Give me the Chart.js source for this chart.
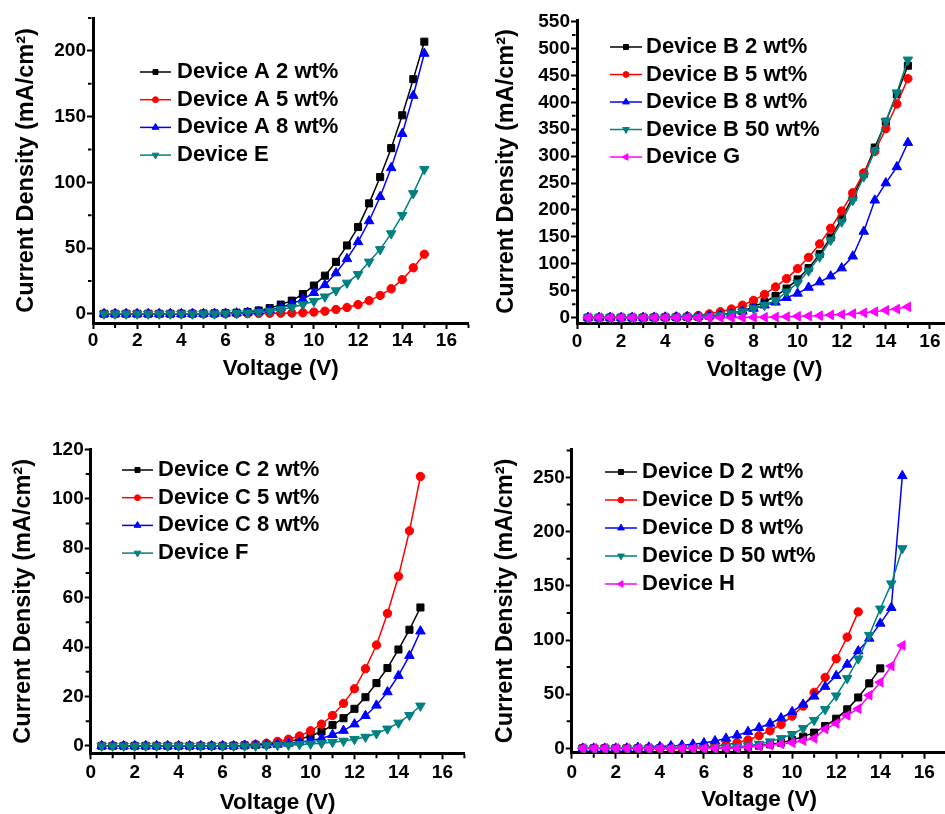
<!DOCTYPE html>
<html>
<head>
<meta charset="utf-8">
<script src="https://cdn.jsdelivr.net/npm/chart.js@4.4.1/dist/chart.umd.min.js"></script>
<style>
  html, body { margin: 0; padding: 0; background: #fff; overflow: hidden; }
  body { width: 945px; height: 814px; position: relative; }
  .panel { position: absolute; }
</style>
</head>
<body>
<div class="panel" style="left:0px;top:0px"><canvas id="chartA" width="475" height="390"></canvas></div>
<div class="panel" style="left:480px;top:0px"><canvas id="chartB" width="479" height="390"></canvas></div>
<div class="panel" style="left:0px;top:420px"><canvas id="chartC" width="472" height="400"></canvas></div>
<div class="panel" style="left:480px;top:420px"><canvas id="chartD" width="474" height="400"></canvas></div>
<script>
const FONT = '"Liberation Sans", Arial, sans-serif';

// voltage sweep, 0.5 V steps
const voltage = [0.5,1,1.5,2,2.5,3,3.5,4,4.5,5,5.5,6,6.5,7,7.5,8,8.5,9,9.5,10,10.5,11,11.5,12,12.5,13,13.5,14,14.5,15];
const xTicks = [0,2,4,6,8,10,12,14,16];
const xMinor = [1,3,5,7,9,11,13,15,17];

// panel A
const devA2 = [0,0,0,0,0,0,0,0.1,0.1,0.2,0.3,0.5,0.8,1.3,2.5,4.3,7,10,15,21.5,29,39.5,52,66,84,104,126,151,178.5,207];
const devA5 = [0,0,0,0,0,0,0,0,0,0,0,0.1,0.1,0.2,0.3,0.4,0.5,0.6,0.8,1.3,2,3.3,4.8,7,10,14,19,26,35,45.3];
const devA8 = [0,0,0,0,0,0,0,0,0.1,0.1,0.2,0.3,0.5,1,1.8,3,4.8,7.6,11,16,22,31,41.8,54.7,70.6,89,111,137,166,198];
const devE  = [0,0,0,0,0,0,0,0,0,0.1,0.1,0.2,0.4,0.8,1.3,2,3.3,4.8,7,9.6,13,17.7,23.5,30,39.5,49,61,75,91.6,110];
const yTicksA = [0,50,100,150,200];
const yMinorA = [25,75,125,175,225];

// panel B
const devB2  = [0,0,0,0,0,0,0.2,0.4,0.6,1,1.8,3,5,8,12,20,29,40,54,71,92,118,149,184,224,267,316,364,415,468];
const devB5  = [0,0,0,0,0.1,0.3,0.5,0.8,1.5,2.5,4,7,11,16,23,32,43,57,72.5,91,112,137,166,198,232,269,309,351,397,444];
const devB8  = [0,0,0,0,0,0.2,0.4,0.7,1,1.5,2,3,5,7.5,12,17,23,28.5,37,45,56,66,77,92,114,160,218,250,280,325];
const devB50 = [0,0,0,0,0,0,0,0.1,0.3,0.5,1,2,4,7.5,11,17,23,32,48,64.5,87,113,144,178,218,262,310,365,418,479];
const devG   = [0,0,0,0,0,0,0,0,0,0,0,0,0,0,0,0.5,0.8,1.2,1.8,2.5,3,3.7,5,6,7.4,9,11,13.6,16,20];
const yTicksB = [0,50,100,150,200,250,300,350,400,450,500,550];
const yMinorB = [25,75,125,175,225,275,325,375,425,475,525];

// panel C
const devC2 = [0,0,0,0,0,0,0,0,0,0,0,0,0.1,0.2,0.4,0.6,1.1,1.8,2.7,4,5.8,8.4,11.2,15,19.7,25.4,31.5,39,47,56];
const devC5 = [0,0,0,0,0,0,0,0,0,0,0,0,0,0.3,0.6,1.1,1.8,2.7,4,6.1,8.8,12.3,17.2,23.1,31.2,40.8,53.6,68.6,87,109];
const devC8 = [0,0,0,0,0,0,0,0,0,0,0,0,0,0.2,0.3,0.4,0.6,1,1.5,2.2,3,4.5,6.2,8.8,12.2,16.4,21.8,28.4,36.5,46.4];
const devF  = [0,0,0,0,0,0,0,0,0,0,0,0,0,0,0,0.2,0.3,0.4,0.6,0.8,1.1,1.5,2,2.7,3.6,5,6.9,9.3,12.4,16.2];
const yTicksC = [0,20,40,60,80,100,120];
const yMinorC = [10,30,50,70,90,110];

// panel D (2 wt% stops at 14 V, 5 wt% at 13 V)
const devD2  = [0,0,0,0,0,0,0,0,0,0,0,0,0,0.5,1,1.5,2.5,3.7,5.2,7.7,10.8,14.5,20.6,27.4,36,47,60,73.8];
const devD5  = [0,0,0,0,0,0,0,0,0,0.5,0.8,1.2,2,3.4,5.2,7.7,11.7,16.3,22,29.8,39,51.7,65.5,82.7,102.7,126];
const devD8  = [0,0,0,0,0.2,0.8,1,1.5,2.2,2.8,3.7,4.9,6.8,9.2,12,15.4,19,23,28,33.8,40.6,48,57,67,77.5,89.8,101.5,115.3,129.8,251.5];
const devD50 = [0,0,0,0,0,0,0,0,0,0,0,0,0.5,1,1.5,2.5,4,6.2,9.2,13,18.5,26,36,48.6,64.6,82.7,104.5,128.8,152,184.5];
const devH   = [0,0,0,0,0,0,0,0,0,0,0,0,0,0,0,1.2,1.8,2.8,4,5.2,7,9.2,17.8,23,30.4,36.6,49,61,76,95];
const yTicksD = [0,50,100,150,200,250];
const yMinorD = [25,75,125,175,225,275];

const MK = {
  square: {style: 'rect', r: 5, rot: 0},
  circle: {style: 'circle', r: 4.2, rot: 0},
  up:     {style: 'triangle', r: 5.5, rot: 0},
  down:   {style: 'triangle', r: 5.5, rot: 180},
  left:   {style: 'triangle', r: 5.5, rot: 270}
};

function buildSeries(list) {
  return list.map((s, i) => ({
    label: s.label,
    data: s.values.map((v, k) => ({x: voltage[k], y: v})),
    borderColor: s.color,
    backgroundColor: s.color,
    pointBackgroundColor: s.color,
    pointBorderColor: s.color,
    pointStyle: s.marker.style,
    pointRadius: s.marker.r,
    pointRotation: s.marker.rot,
    pointBorderWidth: 1,
    borderWidth: 1.5,
    tension: 0,
    order: list.length - i
  }));
}

const minorTicks = {
  id: 'minorTicks',
  afterDraw(chart, args, opts) {
    const {ctx, chartArea: a} = chart;
    const xs = chart.scales.x, ys = chart.scales.y;
    ctx.save();
    ctx.strokeStyle = '#000';
    ctx.lineWidth = 2;
    ctx.beginPath();
    opts.x.forEach(v => {
      const p = xs.getPixelForValue(v);
      ctx.moveTo(p, a.bottom + 1.5);
      ctx.lineTo(p, a.bottom + 5);
    });
    opts.y.forEach(v => {
      const p = ys.getPixelForValue(v);
      ctx.moveTo(a.left - 1.5, p);
      ctx.lineTo(a.left - 5, p);
    });
    ctx.stroke();
    ctx.restore();
  }
};

const boxLegend = {
  id: 'boxLegend',
  afterDraw(chart, args, o) {
    const ctx = chart.ctx;
    ctx.save();
    ctx.font = 'bold 22px ' + FONT;
    ctx.textBaseline = 'middle';
    chart.data.datasets.forEach((ds, i) => {
      const y = o.y + i * o.gap;
      ctx.strokeStyle = ds.borderColor;
      ctx.lineWidth = 1.5;
      ctx.beginPath();
      ctx.moveTo(o.x0, y);
      ctx.lineTo(o.x1, y);
      ctx.stroke();
      ctx.fillStyle = ds.borderColor;
      ctx.lineWidth = 1;
      if (Chart.helpers && Chart.helpers.drawPoint) {
        Chart.helpers.drawPoint(ctx, {pointStyle: ds.pointStyle, rotation: ds.pointRotation,
          radius: ds.pointRadius * 0.7, borderWidth: 1}, (o.x0 + o.x1) / 2, y);
      }
      ctx.fillStyle = '#000';
      ctx.fillText(ds.label, o.tx, y);
    });
    ctx.restore();
  }
};

function makeChart(id, cfg, series) {
  const tickFont = {family: FONT, weight: 'bold', size: 19, lineHeight: 1};
  const xTitleFont = {family: FONT, weight: 'bold', size: 22.5, lineHeight: 1};
  const yTitleFont = {family: FONT, weight: 'bold', size: 23.5, lineHeight: 1};
  new Chart(document.getElementById(id), {
    type: 'line',
    data: {datasets: buildSeries(series)},
    options: {
      responsive: false,
      animation: false,
      devicePixelRatio: 1,
      layout: {padding: {top: cfg.padTop, right: cfg.padRight, left: 0, bottom: 0}},
      plugins: {
        legend: {display: false},
        tooltip: {enabled: false},
        minorTicks: {x: xMinor, y: cfg.yMinor},
        boxLegend: cfg.legend
      },
      scales: {
        x: {
          type: 'linear', min: 0, max: 17,
          afterBuildTicks: s => { s.ticks = xTicks.map(v => ({value: v})); },
          afterFit: s => { s.height = cfg.xH; },
          ticks: {font: tickFont, color: '#000', padding: cfg.xLabelPad, autoSkip: false, maxRotation: 0},
          grid: {drawOnChartArea: false, tickLength: 6, tickWidth: 2, tickColor: '#000'},
          border: {width: 3, color: '#000'},
          title: {display: true, text: 'Voltage (V)', color: '#000', font: xTitleFont,
                  padding: {top: 0, bottom: cfg.xTitlePad}}
        },
        y: {
          type: 'linear', min: cfg.yMin, max: cfg.yMax,
          afterBuildTicks: s => { s.ticks = cfg.yTicks.map(v => ({value: v})); },
          afterFit: s => { s.width = cfg.yW; },
          ticks: {font: tickFont, color: '#000', padding: 1, autoSkip: false},
          grid: {drawOnChartArea: false, tickLength: 6, tickWidth: 2, tickColor: '#000'},
          border: {width: 3, color: '#000'},
          title: {display: true, text: 'Current Density (mA/cm²)', color: '#000', font: yTitleFont,
                  padding: {top: cfg.yTitlePad, bottom: 0}}
        }
      }
    },
    plugins: [minorTicks, boxLegend]
  });
}

makeChart('chartA', {
  padTop: 18, padRight: 6.5, yW: 93, xH: 67, yMin: -7, yMax: 225,
  yTicks: yTicksA, yMinor: yMinorA, xLabelPad: 2.5, xTitlePad: 10, yTitlePad: 14.5,
  legend: {x0: 140, x1: 171, tx: 177, y: 72, gap: 27.7}
}, [
  {label: 'Device A 2 wt%', values: devA2, color: '#000000', marker: MK.square},
  {label: 'Device A 5 wt%', values: devA5, color: '#ff0000', marker: MK.circle},
  {label: 'Device A 8 wt%', values: devA8, color: '#0000ff', marker: MK.up},
  {label: 'Device E', values: devE, color: '#008080', marker: MK.down}
]);

makeChart('chartB', {
  padTop: 20, padRight: 7, yW: 97, xH: 67, yMin: -10, yMax: 553,
  yTicks: yTicksB, yMinor: yMinorB, xLabelPad: 3, xTitlePad: 9, yTitlePad: 14.5,
  legend: {x0: 130, x1: 162, tx: 166, y: 47, gap: 27.5}
}, [
  {label: 'Device B 2 wt%', values: devB2, color: '#000000', marker: MK.square},
  {label: 'Device B 5 wt%', values: devB5, color: '#ff0000', marker: MK.circle},
  {label: 'Device B 8 wt%', values: devB8, color: '#0000ff', marker: MK.up},
  {label: 'Device B 50 wt%', values: devB50, color: '#008080', marker: MK.down},
  {label: 'Device G', values: devG, color: '#ff00ff', marker: MK.left}
]);

makeChart('chartC', {
  padTop: 29.3, padRight: 7.6, yW: 90.7, xH: 66.7, yMin: -3, yMax: 120,
  yTicks: yTicksC, yMinor: yMinorC, xLabelPad: 3.9, xTitlePad: 6, yTitlePad: 12,
  legend: {x0: 122, x1: 153, tx: 158, y: 50, gap: 27.7}
}, [
  {label: 'Device C 2 wt%', values: devC2, color: '#000000', marker: MK.square},
  {label: 'Device C 5 wt%', values: devC5, color: '#ff0000', marker: MK.circle},
  {label: 'Device C 8 wt%', values: devC8, color: '#0000ff', marker: MK.up},
  {label: 'Device F', values: devF, color: '#008080', marker: MK.down}
]);

makeChart('chartD', {
  padTop: 29.3, padRight: 7.6, yW: 91.7, xH: 67.3, yMin: -4, yMax: 276,
  yTicks: yTicksD, yMinor: yMinorD, xLabelPad: 4.5, xTitlePad: 9, yTitlePad: 13.5,
  legend: {x0: 125, x1: 157, tx: 162, y: 52, gap: 28}
}, [
  {label: 'Device D 2 wt%', values: devD2, color: '#000000', marker: MK.square},
  {label: 'Device D 5 wt%', values: devD5, color: '#ff0000', marker: MK.circle},
  {label: 'Device D 8 wt%', values: devD8, color: '#0000ff', marker: MK.up},
  {label: 'Device D 50 wt%', values: devD50, color: '#008080', marker: MK.down},
  {label: 'Device H', values: devH, color: '#ff00ff', marker: MK.left}
]);
</script>
</body>
</html>
